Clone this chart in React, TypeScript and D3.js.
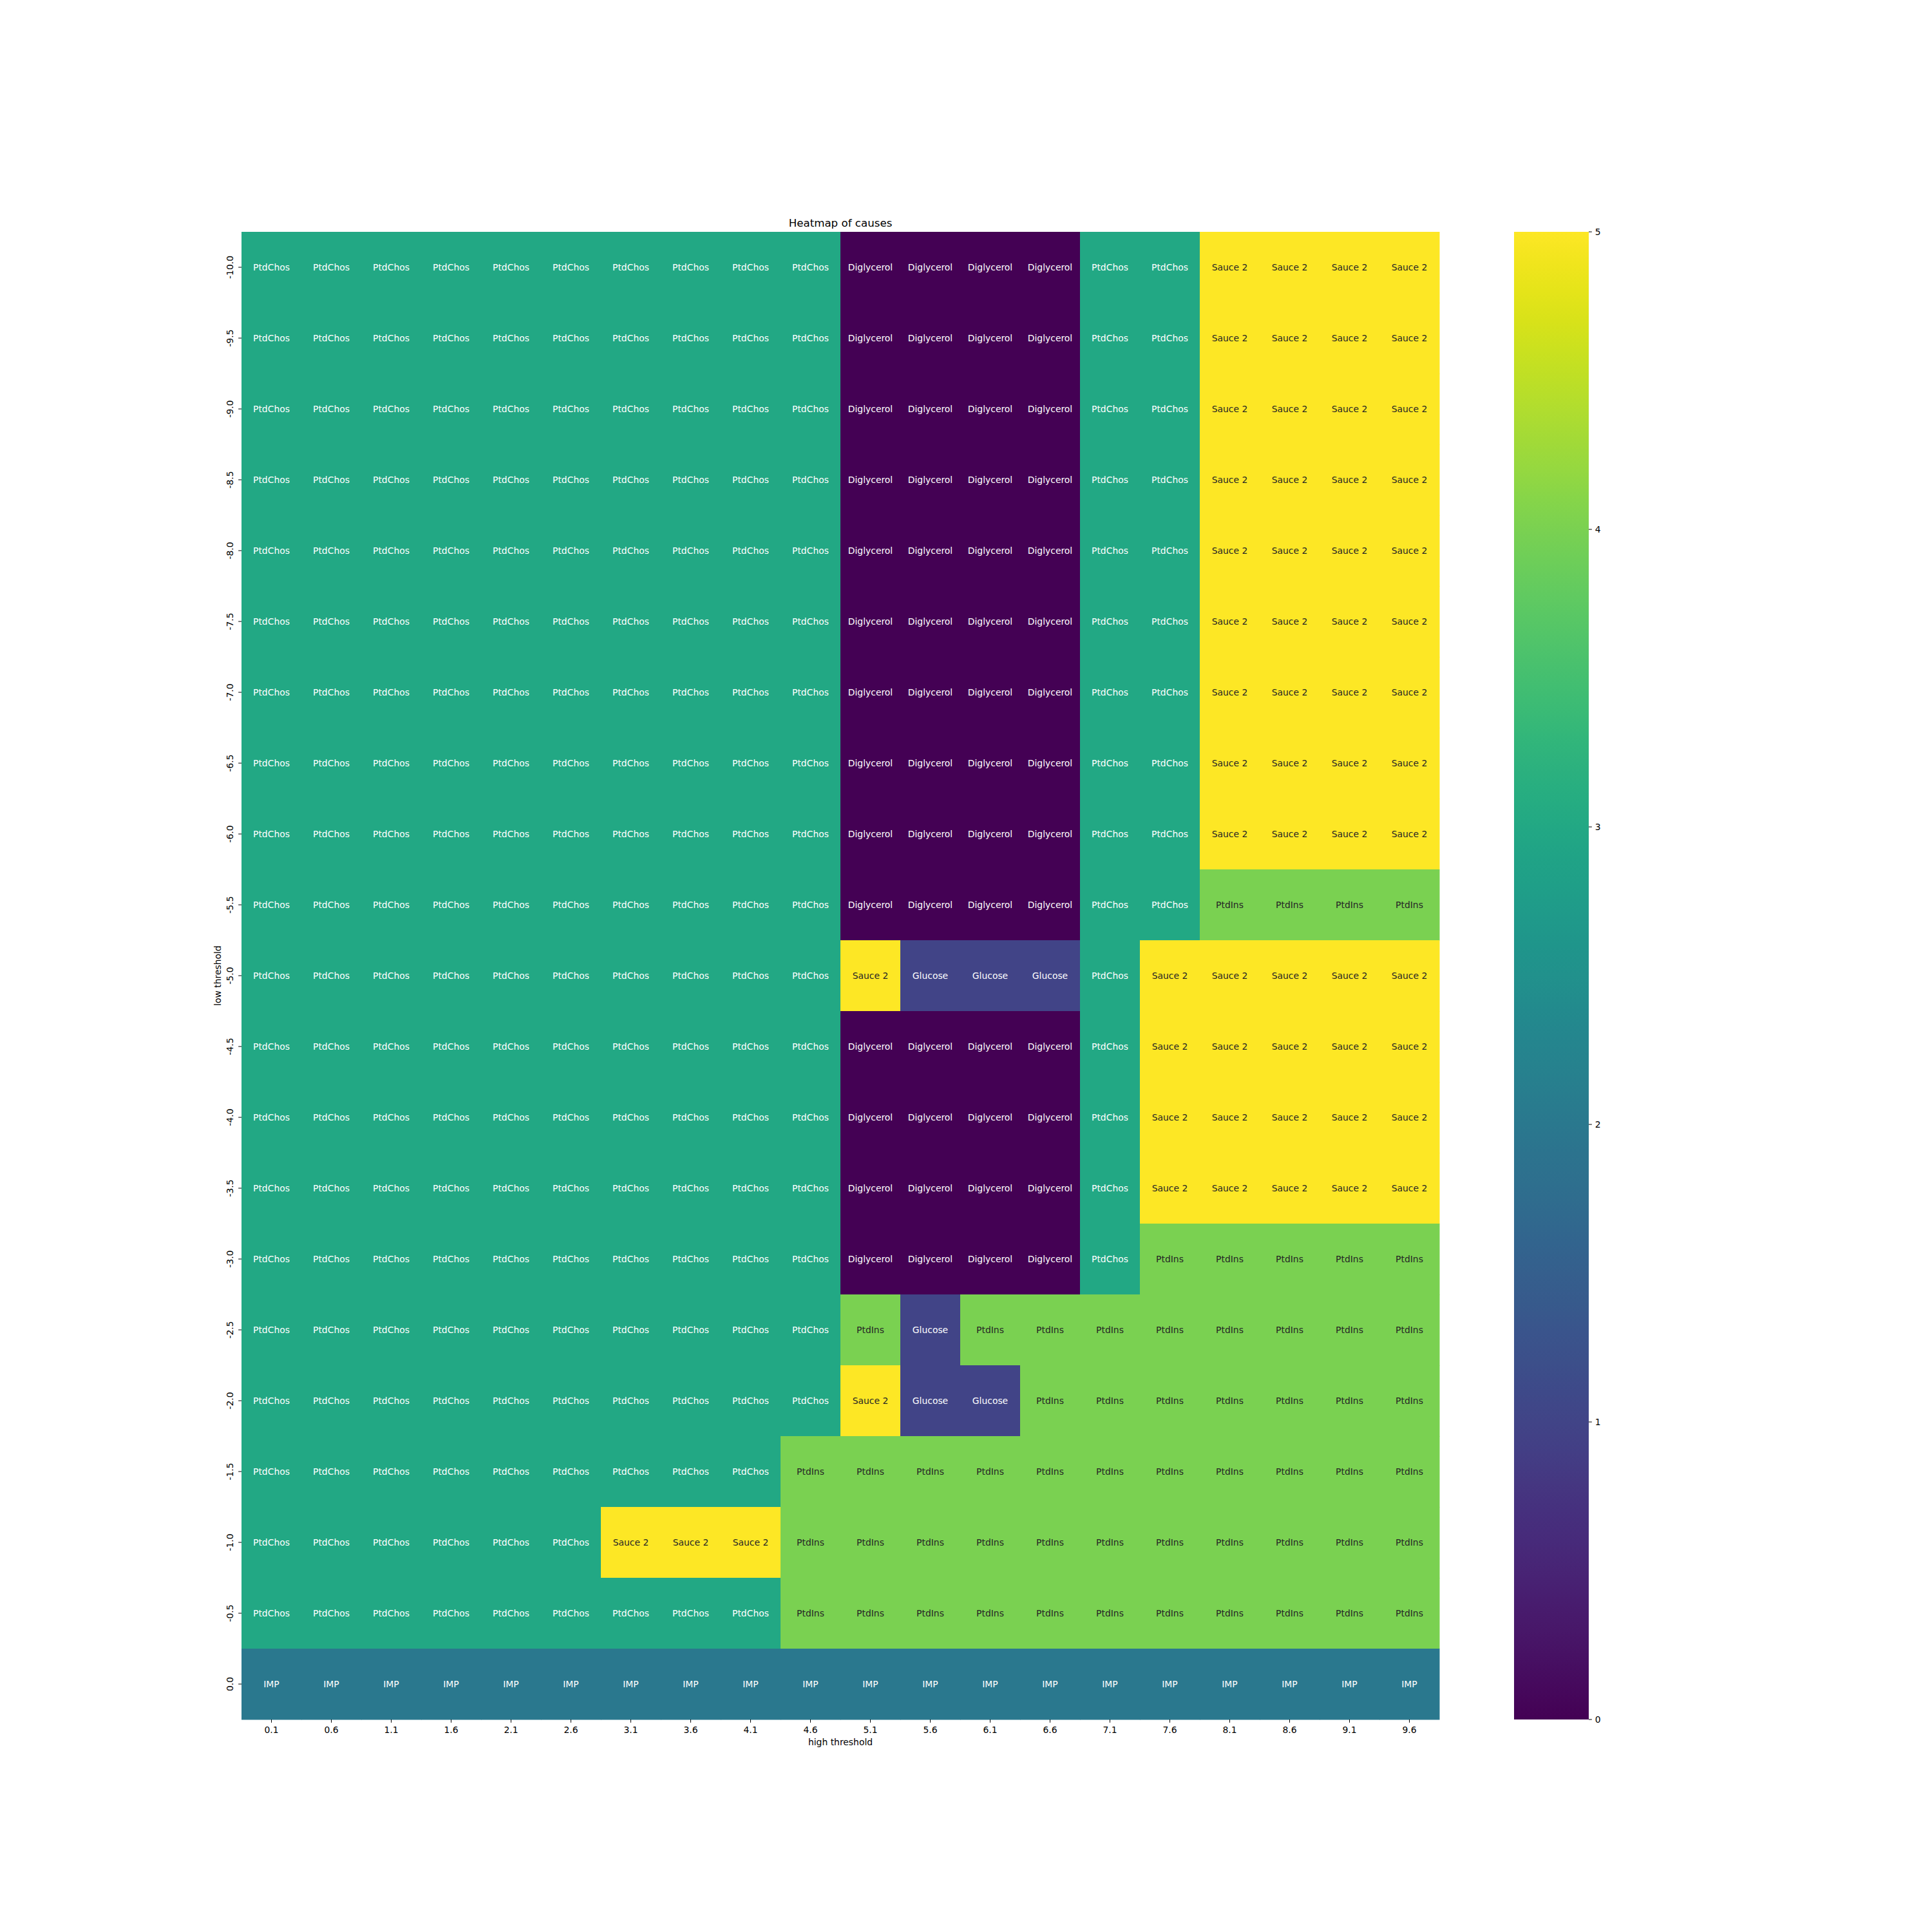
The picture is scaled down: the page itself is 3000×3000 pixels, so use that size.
import React from 'react';
import * as d3 from 'd3';

// cause names, index = value on the colour scale
const causes = ['Diglycerol', 'Glucose', 'IMP', 'PtdChos', 'PtdIns', 'Sauce 2'];

const highThreshold = [
  '0.1', '0.6', '1.1', '1.6', '2.1', '2.6', '3.1', '3.6', '4.1', '4.6',
  '5.1', '5.6', '6.1', '6.6', '7.1', '7.6', '8.1', '8.6', '9.1', '9.6',
];

const lowThreshold = [
  '-10.0', '-9.5', '-9.0', '-8.5', '-8.0', '-7.5', '-7.0', '-6.5', '-6.0', '-5.5',
  '-5.0', '-4.5', '-4.0', '-3.5', '-3.0', '-2.5', '-2.0', '-1.5', '-1.0', '-0.5', '0.0',
];

// one row per low threshold, one entry per high threshold
const cells: number[][] = [
  [3, 3, 3, 3, 3, 3, 3, 3, 3, 3, 0, 0, 0, 0, 3, 3, 5, 5, 5, 5],
  [3, 3, 3, 3, 3, 3, 3, 3, 3, 3, 0, 0, 0, 0, 3, 3, 5, 5, 5, 5],
  [3, 3, 3, 3, 3, 3, 3, 3, 3, 3, 0, 0, 0, 0, 3, 3, 5, 5, 5, 5],
  [3, 3, 3, 3, 3, 3, 3, 3, 3, 3, 0, 0, 0, 0, 3, 3, 5, 5, 5, 5],
  [3, 3, 3, 3, 3, 3, 3, 3, 3, 3, 0, 0, 0, 0, 3, 3, 5, 5, 5, 5],
  [3, 3, 3, 3, 3, 3, 3, 3, 3, 3, 0, 0, 0, 0, 3, 3, 5, 5, 5, 5],
  [3, 3, 3, 3, 3, 3, 3, 3, 3, 3, 0, 0, 0, 0, 3, 3, 5, 5, 5, 5],
  [3, 3, 3, 3, 3, 3, 3, 3, 3, 3, 0, 0, 0, 0, 3, 3, 5, 5, 5, 5],
  [3, 3, 3, 3, 3, 3, 3, 3, 3, 3, 0, 0, 0, 0, 3, 3, 5, 5, 5, 5],
  [3, 3, 3, 3, 3, 3, 3, 3, 3, 3, 0, 0, 0, 0, 3, 3, 4, 4, 4, 4],
  [3, 3, 3, 3, 3, 3, 3, 3, 3, 3, 5, 1, 1, 1, 3, 5, 5, 5, 5, 5],
  [3, 3, 3, 3, 3, 3, 3, 3, 3, 3, 0, 0, 0, 0, 3, 5, 5, 5, 5, 5],
  [3, 3, 3, 3, 3, 3, 3, 3, 3, 3, 0, 0, 0, 0, 3, 5, 5, 5, 5, 5],
  [3, 3, 3, 3, 3, 3, 3, 3, 3, 3, 0, 0, 0, 0, 3, 5, 5, 5, 5, 5],
  [3, 3, 3, 3, 3, 3, 3, 3, 3, 3, 0, 0, 0, 0, 3, 4, 4, 4, 4, 4],
  [3, 3, 3, 3, 3, 3, 3, 3, 3, 3, 4, 1, 4, 4, 4, 4, 4, 4, 4, 4],
  [3, 3, 3, 3, 3, 3, 3, 3, 3, 3, 5, 1, 1, 4, 4, 4, 4, 4, 4, 4],
  [3, 3, 3, 3, 3, 3, 3, 3, 3, 4, 4, 4, 4, 4, 4, 4, 4, 4, 4, 4],
  [3, 3, 3, 3, 3, 3, 5, 5, 5, 4, 4, 4, 4, 4, 4, 4, 4, 4, 4, 4],
  [3, 3, 3, 3, 3, 3, 3, 3, 3, 4, 4, 4, 4, 4, 4, 4, 4, 4, 4, 4],
  [2, 2, 2, 2, 2, 2, 2, 2, 2, 2, 2, 2, 2, 2, 2, 2, 2, 2, 2, 2],
];

const colorTicks = [0, 1, 2, 3, 4, 5];

const FONT = 'DejaVu Sans';
const FS = 13.9;

export default function App() {
  const left = 375;
  const right = 2235;
  const top = 360;
  const bottom = 2670;
  const cbLeft = 2351;
  const cbRight = 2467;

  const x = d3.scaleBand<string>().domain(highThreshold).range([left, right]);
  const y = d3.scaleBand<string>().domain(lowThreshold).range([top, bottom]);
  const color = d3.scaleSequential(d3.interpolateViridis).domain([0, 5]);
  const cbY = d3.scaleLinear().domain([0, 5]).range([bottom, top]);

  // light text on dark cells, dark text on light cells (relative luminance)
  const lin = (c: number) => {
    const s = c / 255;
    return s <= 0.03928 ? s / 12.92 : Math.pow((s + 0.055) / 1.055, 2.4);
  };
  const textColor = (v: number) => {
    const c = d3.rgb(color(v));
    const lum = 0.2126 * lin(c.r) + 0.7152 * lin(c.g) + 0.0722 * lin(c.b);
    return lum > 0.408 ? '#262626' : '#ffffff';
  };

  const stops = d3.range(0, 1.0001, 0.02);

  return (
    <svg
      width={3000}
      height={3000}
      style={{ position: 'absolute', left: 0, top: 0, background: '#fff' }}
      fontFamily={FONT}
    >
      <defs>
        <linearGradient id="cb" x1="0" y1="1" x2="0" y2="0">
          {stops.map((t) => (
            <stop key={t} offset={t} stopColor={d3.interpolateViridis(t)} />
          ))}
        </linearGradient>
      </defs>

      {cells.map((row, i) =>
        row.map((v, j) => (
          <rect
            key={`r${i}-${j}`}
            x={x(highThreshold[j])}
            y={y(lowThreshold[i])}
            width={x.bandwidth() + 0.5}
            height={y.bandwidth() + 0.5}
            fill={color(v)}
          />
        ))
      )}

      {cells.map((row, i) =>
        row.map((v, j) => (
          <text
            key={`t${i}-${j}`}
            x={x(highThreshold[j])! + x.bandwidth() / 2}
            y={y(lowThreshold[i])! + y.bandwidth() / 2}
            textAnchor="middle"
            dominantBaseline="central"
            fontSize={FS}
            fill={textColor(v)}
          >
            {causes[v]}
          </text>
        ))
      )}

      {/* x axis */}
      {highThreshold.map((d) => {
        const cx = x(d)! + x.bandwidth() / 2;
        return (
          <g key={`x${d}`}>
            <line x1={cx} x2={cx} y1={bottom} y2={bottom + 4.86} stroke="#000" strokeWidth={1} />
            <text x={cx} y={2691} textAnchor="middle" fontSize={FS} fill="#000">
              {d}
            </text>
          </g>
        );
      })}
      <text x={(left + right) / 2} y={2710} textAnchor="middle" fontSize={FS} fill="#000">
        high threshold
      </text>

      {/* y axis */}
      {lowThreshold.map((d) => {
        const cy = y(d)! + y.bandwidth() / 2;
        return (
          <g key={`y${d}`}>
            <line x1={left - 4.86} x2={left} y1={cy} y2={cy} stroke="#000" strokeWidth={1} />
            <text
              transform={`translate(362,${cy}) rotate(-90)`}
              textAnchor="middle"
              fontSize={FS}
              fill="#000"
            >
              {d}
            </text>
          </g>
        );
      })}
      <text
        transform={`translate(342.5,${(top + bottom) / 2}) rotate(-90)`}
        textAnchor="middle"
        fontSize={FS}
        fill="#000"
      >
        low threshold
      </text>

      <text x={(left + right) / 2} y={351.7} textAnchor="middle" fontSize={16.67} fill="#000">
        Heatmap of causes
      </text>

      {/* colorbar */}
      <rect x={cbLeft} y={top} width={cbRight - cbLeft} height={bottom - top} fill="url(#cb)" />
      {colorTicks.map((t) => (
        <g key={`c${t}`}>
          <line x1={cbRight} x2={cbRight + 4.86} y1={cbY(t)} y2={cbY(t)} stroke="#000" strokeWidth={1} />
          <text x={cbRight + 9.7} y={cbY(t)} dominantBaseline="central" fontSize={FS} fill="#000">
            {t}
          </text>
        </g>
      ))}
    </svg>
  );
}
